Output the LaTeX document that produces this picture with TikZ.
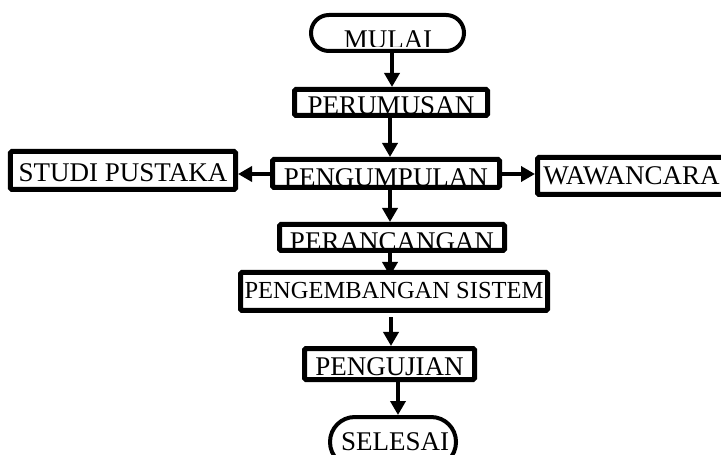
\documentclass[tikz,border=0pt]{standalone}
\usepackage{fontspec}
\setmainfont{Liberation Serif}
\usetikzlibrary{arrows.meta,backgrounds}

\tikzset{
  txtfont/.style={font=\fontsize{27bp}{31bp}\selectfont},
  box/.style={draw, line width=5bp, rounded corners=1.5bp, fill=white,
    inner xsep=0pt, inner ysep=0pt, txtfont},
  term/.style={draw, line width=4bp, fill=white, inner sep=0pt},
  lbl/.style={inner sep=0pt, txtfont},
  flow/.style={line width=3.5bp, -{Triangle[length=14bp,width=15bp]}},
}

\begin{document}
\begin{tikzpicture}[x=1bp,y=-1bp]
  \useasboundingbox (0,0) rectangle (721,455);

  % start terminal
  \node[term, minimum width=153bp, minimum height=36bp, rounded corners=17.9bp]
    (mulai) at (387.5,33) {};
  \begin{scope}
    \clip (300,20) rectangle (480,46.5);
    \node[lbl, anchor=base] (mulai-text) at (388,49) {MULAI};
  \end{scope}

  % process steps
  \node[box, minimum width=193bp, text height=25bp, text depth=1bp]
    (perumusan) at (391,102.5) {PERUMUSAN};
  \node[box, minimum width=225bp, text height=30.5bp, text depth=7.5bp]
    (studi) at (123,170.5) {STUDI PUSTAKA};
  \node[box, minimum width=227bp, text height=27.5bp, text depth=0.5bp]
    (pengumpulan) at (386,173.5) {PENGUMPULAN};
  \node[box, minimum width=188bp, text height=27.5bp, text depth=9.5bp]
    (wawancara) at (631.5,176) {WAWANCARA};
  \node[box, minimum width=225bp, text height=26bp, text depth=0bp]
    (perancangan) at (392,237.5) {PERANCANGAN};
  \node[box, minimum width=307bp, text height=26.5bp, text depth=11.5bp,
        font=\fontsize{24.5bp}{28bp}\selectfont]
    (pengembangan) at (394,291.5) {PENGEMBANGAN SISTEM};
  \node[box, minimum width=170bp, text height=27bp, text depth=4bp]
    (pengujian) at (389.5,364) {PENGUJIAN};

  % end terminal
  \node[term, minimum width=126bp, minimum height=50bp, rounded corners=24.9bp]
    (selesai) at (393,442) {};
  \node[lbl, anchor=base] (selesai-text) at (395,450.5) {SELESAI};

  % connector guide lines
  \coordinate (a1) at (392,0);
  \coordinate (a2) at (390,0);
  \coordinate (a3) at (391,0);
  \coordinate (a4) at (398,0);
  \coordinate (h1) at (0,174);

  % connectors
  \draw[flow] (mulai.south -| a1) -- (perumusan.north -| a1);
  \draw[flow] (perumusan.south -| a2) -- (pengumpulan.north -| a2);
  \draw[flow] (pengumpulan.west |- h1) -- (studi.east |- h1);
  \draw[flow] (pengumpulan.east |- h1) -- (wawancara.west |- h1);
  \draw[flow] (pengumpulan.south -| a2) -- (perancangan.north -| a2);
  \begin{scope}[on background layer]
    % this arrow runs in under the box it points to
    \draw[flow, shorten >=-6bp] (perancangan.south -| a2) -- (pengembangan.north -| a2);
  \end{scope}
  \draw[flow, shorten <=4bp] (pengembangan.south -| a3) -- (pengujian.north -| a3);
  \draw[flow] (pengujian.south -| a4) -- (selesai.north -| a4);
\end{tikzpicture}
\end{document}
